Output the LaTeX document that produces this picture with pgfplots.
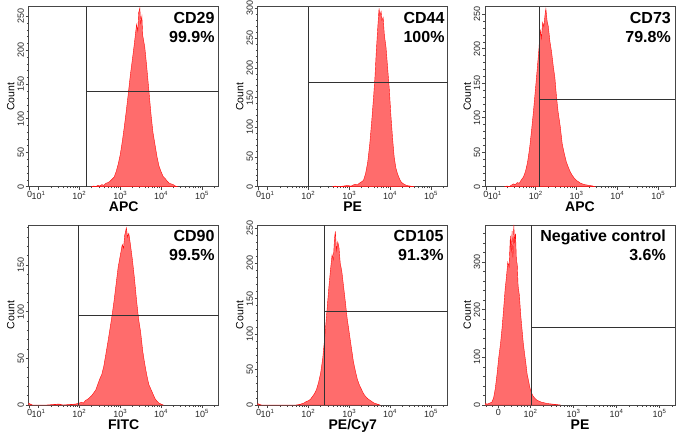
\documentclass[border=0pt]{standalone}
\usepackage{pgfplots}
\pgfplotsset{compat=1.18}
\usepackage{fontspec}
\setmainfont{Liberation Sans}
\definecolor{histfill}{RGB}{255,108,108}
\definecolor{histline}{RGB}{255,10,10}
\definecolor{axgray}{RGB}{70,70,70}
\definecolor{gategray}{RGB}{50,50,50}

\pgfplotsset{
 panel/.style={
  scale only axis, width=190pt, height=180pt, anchor=south west,
  axis line style={axgray, line width=0.8pt},
  tick style={axgray, line width=0.6pt},
  tick align=outside, tick pos=left,
  major tick length=3pt, minor tick length=1.8pt,
  ymin=0,
  minor y tick num=4,
  xtick={0.78,1,2,3,4,5},
  xticklabels={0,10\textsuperscript{1},10\textsuperscript{2},10\textsuperscript{3},10\textsuperscript{4},10\textsuperscript{5}},
  minor xtick={1.301,1.477,1.602,1.699,1.778,1.845,1.903,1.954,2.301,2.477,2.602,2.699,2.778,2.845,2.903,2.954,3.301,3.477,3.602,3.699,3.778,3.845,3.903,3.954,4.301,4.477,4.602,4.699,4.778,4.845,4.903,4.954,5.301},
  xmin=0.76, xmax=5.41,
  ticklabel style={font=\fontsize{9}{10}\selectfont, text=black!85},
  /pgf/number format/assume math mode=true,
  yticklabel style={rotate=90, anchor=south, inner sep=1.5pt},
  xticklabel style={inner sep=1.5pt},
  ylabel={Count},
  ylabel style={font=\fontsize{10.5}{12}\selectfont, yshift=-2pt},
  xlabel style={font=\bfseries\fontsize{14}{16}\selectfont, yshift=3pt},
 },
 hist/.style={fill=histfill, draw=histline, line width=0.4pt},
 gate/.style={gategray, line width=0.8pt},
}
\tikzset{ttl/.style={anchor=north east, align=right, font=\bfseries\fontsize{16}{19}\selectfont, inner sep=0pt, xshift=-4pt, yshift=-5pt}}

\begin{document}
\begin{tikzpicture}
\useasboundingbox (0,0) rectangle (676pt,436pt);

% ---------- CD29 ----------
\begin{axis}[panel, at={(28.7pt,249.3pt)}, ymax=264, xlabel={APC}]
\addplot[hist] table {
2.30 0
2.35 1
2.40 0
2.45 2
2.50 1
2.55 3
2.60 2
2.65 5
2.70 6
2.75 8
2.80 11
2.85 14
2.90 22
2.95 33
3.00 47
3.05 66
3.10 88
3.15 112
3.20 138
3.25 165
3.30 188
3.35 212
3.40 238
3.43 228
3.45 255
3.48 262
3.50 240
3.53 250
3.55 222
3.60 205
3.65 175
3.70 142
3.75 108
3.80 80
3.85 62
3.90 44
3.95 30
4.00 22
4.05 15
4.10 12
4.15 8
4.20 5
4.25 4
4.30 3
4.35 1
4.40 0
} \closedcycle;
\addplot[gate] coordinates {(2.18,0) (2.18,264)};
\addplot[gate] coordinates {(2.18,140) (5.41,140)};
\node[ttl] at (rel axis cs:1,1) {CD29\\99.9\%};
\end{axis}

% ---------- CD44 ----------
\begin{axis}[panel, at={(257.7pt,249.3pt)}, ymax=303, xlabel={PE}]
\addplot[hist] table {
2.60 0
2.65 1
2.75 0
2.85 1
2.95 2
3.05 1
3.10 3
3.15 4
3.20 3
3.25 6
3.30 8
3.35 11
3.40 22
3.45 40
3.50 70
3.55 110
3.60 155
3.63 185
3.66 225
3.70 270
3.73 300
3.75 288
3.78 295
3.80 280
3.83 285
3.86 255
3.90 235
3.94 200
3.98 165
4.02 120
4.06 82
4.10 50
4.14 32
4.18 22
4.22 15
4.26 9
4.30 6
4.35 4
4.40 2
4.50 1
4.60 0
} \closedcycle;
\addplot[gate] coordinates {(2.0,0) (2.0,303)};
\addplot[gate] coordinates {(2.0,175) (5.41,175)};
\node[ttl, xshift=1pt] at (rel axis cs:1,1) {CD44\\100\%};
\end{axis}

% ---------- CD73 ----------
\begin{axis}[panel, at={(485pt,249.3pt)}, ymax=261, xlabel={APC}]
\addplot[hist] table {
1.25 0
1.30 1
1.35 0
1.40 2
1.45 4
1.50 3
1.55 6
1.60 5
1.65 10
1.70 14
1.75 22
1.80 35
1.85 55
1.90 82
1.95 112
2.00 145
2.04 172
2.08 200
2.11 228
2.14 215
2.17 238
2.20 232
2.23 250
2.25 258
2.28 240
2.31 232
2.35 210
2.39 195
2.43 175
2.47 158
2.51 130
2.55 108
2.60 88
2.65 62
2.70 48
2.75 36
2.80 28
2.85 21
2.90 16
2.95 12
3.00 9
3.05 7
3.10 5
3.20 3
3.30 2
3.40 1
3.45 0
} \closedcycle;
\addplot[gate] coordinates {(2.09,0) (2.09,261)};
\addplot[gate] coordinates {(2.09,126) (5.41,126)};
\node[ttl] at (rel axis cs:1,1) {CD73\\79.8\%};
\end{axis}

% ---------- CD90 ----------
\begin{axis}[panel, at={(28.7pt,31pt)}, ymax=193, xlabel={FITC}]
\addplot[hist] table {
0.76 2
0.80 1
0.85 0
1.20 0
1.50 1
1.60 0
1.90 1
2.00 2
2.05 3
2.10 2
2.15 5
2.20 6
2.25 8
2.30 10
2.35 13
2.40 16
2.45 22
2.50 28
2.55 33
2.60 42
2.65 55
2.70 68
2.75 82
2.80 96
2.85 112
2.90 130
2.95 148
3.00 160
3.05 172
3.08 168
3.11 182
3.15 190
3.18 180
3.21 184
3.25 172
3.30 155
3.35 135
3.40 112
3.45 92
3.50 78
3.55 58
3.60 44
3.65 32
3.70 22
3.75 17
3.80 12
3.85 7
3.90 4
3.95 2
4.00 1
4.05 0
} \closedcycle;
\addplot[gate] coordinates {(1.97,0) (1.97,193)};
\addplot[gate] coordinates {(1.97,96.6) (5.41,96.6)};
\node[ttl] at (rel axis cs:1,1) {CD90\\99.5\%};
\end{axis}

% ---------- CD105 ----------
\begin{axis}[panel, at={(257.7pt,31pt)}, ymax=254, xlabel={PE/Cy7}]
\addplot[hist] table {
0.76 2
0.80 1
0.85 0
1.70 0
1.80 1
1.85 2
1.90 3
1.95 5
2.00 6
2.05 8
2.10 12
2.15 16
2.20 22
2.25 32
2.30 45
2.35 65
2.40 95
2.45 130
2.50 165
2.54 190
2.58 212
2.61 205
2.64 235
2.66 245
2.69 218
2.72 230
2.75 222
2.78 200
2.82 188
2.86 168
2.90 148
2.95 122
3.00 102
3.05 82
3.10 62
3.15 48
3.20 36
3.25 28
3.30 22
3.35 16
3.40 12
3.45 9
3.50 7
3.55 5
3.60 3
3.70 1
3.75 0
} \closedcycle;
\addplot[gate] coordinates {(2.39,0) (2.39,254)};
\addplot[gate] coordinates {(2.39,132) (5.41,132)};
\node[ttl] at (rel axis cs:1,1) {CD105\\91.3\%};
\end{axis}

% ---------- Negative control ----------
\begin{axis}[panel, at={(485pt,31pt)}, ymax=378, xlabel={PE},
  xmin=0.94, xmax=5.36,
  xtick={1.25,2,3,4,5},
  xticklabels={0,10\textsuperscript{2},10\textsuperscript{3},10\textsuperscript{4},10\textsuperscript{5}},
  minor xtick={0.98,1.12,1.40,1.55,1.68,1.78,1.86,1.93,2.301,2.477,2.602,2.699,2.778,2.845,2.903,2.954,3.301,3.477,3.602,3.699,3.778,3.845,3.903,3.954,4.301,4.477,4.602,4.699,4.778,4.845,4.903,4.954,5.301}]
\addplot[hist] table {
0.94 3
1.00 2
1.05 4
1.10 6
1.14 15
1.18 35
1.22 65
1.26 100
1.30 128
1.34 165
1.38 210
1.41 245
1.44 270
1.47 300
1.50 290
1.53 355
1.55 320
1.57 365
1.59 310
1.61 378
1.63 340
1.65 360
1.67 305
1.69 295
1.71 250
1.74 230
1.77 190
1.80 160
1.83 130
1.86 108
1.89 88
1.92 65
1.95 52
1.98 38
2.01 28
2.05 20
2.10 14
2.15 10
2.20 8
2.25 6
2.30 5
2.40 3
2.50 2
2.60 1
2.70 0
} \closedcycle;
\addplot[gate] coordinates {(2.02,0) (2.02,378)};
\addplot[gate] coordinates {(2.02,164) (5.36,164)};
\node[ttl, xshift=-5pt] at (rel axis cs:1,1) {Negative control\\3.6\%};
\end{axis}
\end{tikzpicture}
\end{document}
